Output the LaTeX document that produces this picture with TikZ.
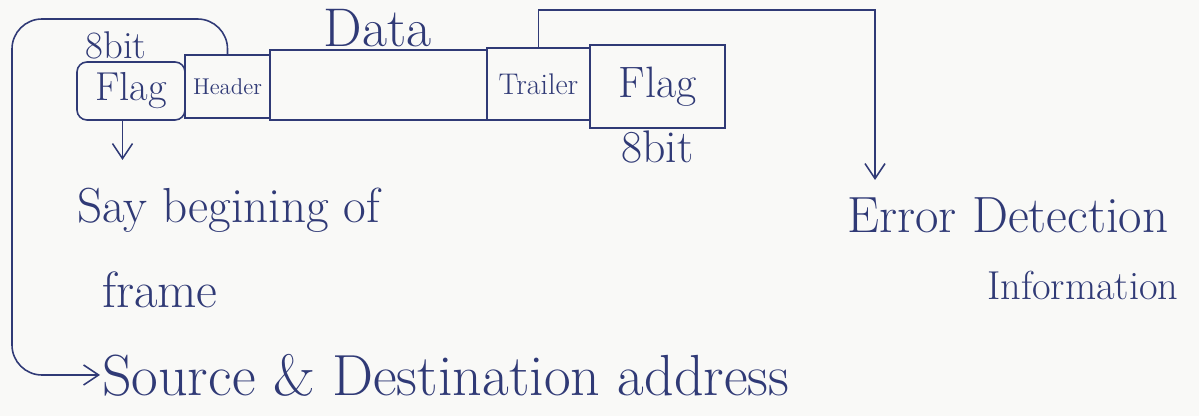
\documentclass[tikz,border=0pt]{standalone}
\usepackage{xcolor}
\usepackage{tikz}
\usetikzlibrary{arrows.meta,positioning,calc}
\definecolor{ink}{RGB}{48,58,118}
\definecolor{paper}{RGB}{249,249,247}

\begin{document}
\begin{tikzpicture}[
  fld/.style={rectangle,draw=ink,line width=0.9pt,text=ink,inner sep=1pt},
  lbl/.style={text=ink,inner sep=1pt,anchor=west},
  ar/.style={-{Straight Barb[length=3mm,width=4mm]},draw=ink,line width=0.9pt}
]
\fill[paper] (0,0) rectangle (23.98,-8.32);
\useasboundingbox (0,0) rectangle (23.98,-8.32);

\node[fld,minimum width=4.34cm,minimum height=1.4cm] (data) at (7.57,-1.7) {};
\node[fld,minimum width=1.7cm,minimum height=1.26cm,font=\fontsize{13}{15}\selectfont] (header) at (4.55,-1.73) {Header};
\node[fld,minimum width=2.06cm,minimum height=1.44cm,font=\fontsize{17}{19}\selectfont] (trailer) at (10.77,-1.68) {Trailer};
\node[fld,rounded corners=2mm,minimum width=2.16cm,minimum height=1.16cm,font=\fontsize{23}{26}\selectfont] (flagL) at (2.62,-1.82) {Flag};
\node[fld,minimum width=2.7cm,minimum height=1.66cm,font=\fontsize{25}{28}\selectfont] (flagR) at (13.15,-1.73) {Flag};

\node[text=ink,font=\fontsize{31}{34}\selectfont] (datalbl) at (7.55,-0.56) {Data};
\node[text=ink,above=0pt of flagL.north,xshift=-3mm,inner sep=1pt,font=\fontsize{22}{25}\selectfont] (bitL) {8bit};
\node[text=ink,below=0pt of flagR.south,inner sep=1pt,font=\fontsize{26}{29}\selectfont] (bitR) {8bit};

\node[lbl,font=\fontsize{28}{32}\selectfont] (beg) at (1.5,-4.2) {Say begining of};
\node[lbl,font=\fontsize{29}{33}\selectfont] (frame) at (2.0,-5.8) {frame};
\node[lbl,font=\fontsize{29}{33}\selectfont] (err) at (16.9,-4.3) {Error Detection};
\node[lbl,font=\fontsize{23}{27}\selectfont] (info) at (19.7,-5.7) {Information};
\node[lbl,font=\fontsize{33}{37}\selectfont] (src) at (2.0,-7.5) {Source \& Destination address};

\coordinate (begtip) at (2.45,-3.2);
\coordinate (errtip) at (17.5,-3.6);

\draw[ar] (flagL.south -| begtip) -- (begtip);
\draw[ar,rounded corners=6mm] (header.north) |- (0.24,-0.38) |- (src.west);
\draw[ar] (trailer.north) |- ($(errtip)+(0,3.4)$) -- (errtip);
\end{tikzpicture}
\end{document}
